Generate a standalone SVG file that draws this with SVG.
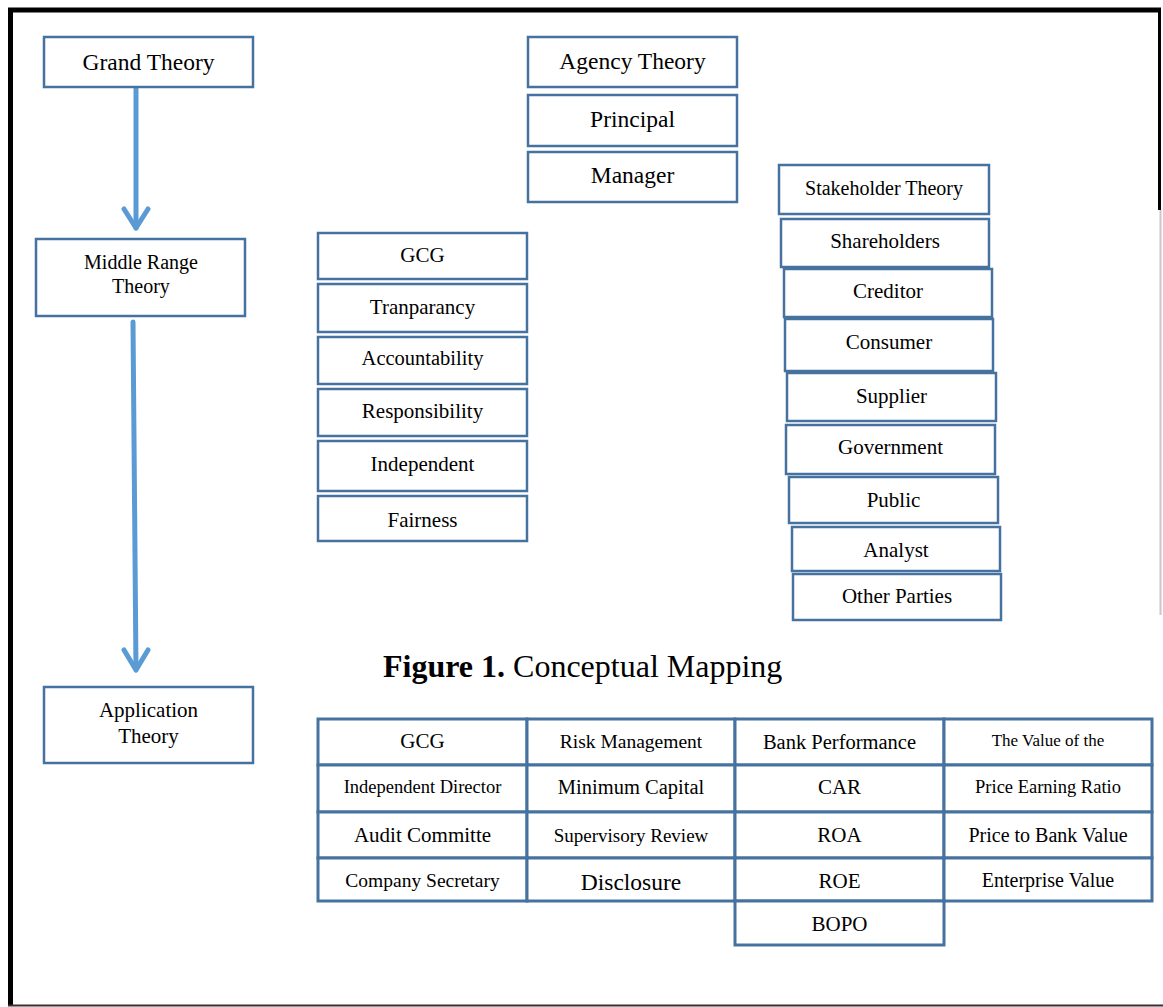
<svg xmlns="http://www.w3.org/2000/svg" width="1163" height="1007" viewBox="0 0 1163 1007">
<style>
  .box { fill: #ffffff; stroke: #4672a0; stroke-width: 2.5; }
  .cell { fill: #ffffff; stroke: #4672a0; stroke-width: 3; }
  .t { font-family: "Liberation Serif", "Times New Roman", serif; fill: #000000; text-anchor: middle; }
  .arrow { fill: none; stroke: #5b9bd5; stroke-width: 5; stroke-linecap: round; stroke-linejoin: round; }
</style>
<rect x="0" y="0" width="1163" height="1007" fill="#ffffff"/>
<g id="frame">
  <line x1="8" y1="10" x2="1161" y2="10" stroke="#000" stroke-width="5"/>
  <line x1="10.5" y1="8" x2="10.5" y2="1006" stroke="#000" stroke-width="5"/>
  <line x1="1159.5" y1="8" x2="1159.5" y2="210" stroke="#000" stroke-width="3"/>
  <line x1="1160.5" y1="210" x2="1160.5" y2="615" stroke="#c8c8c8" stroke-width="2"/>
  <line x1="8" y1="1005.5" x2="1163" y2="1005.5" stroke="#333" stroke-width="2"/>
</g>
<g id="connectors">
  <path class="arrow" d="M136 89 L136 228"/>
  <path class="arrow" d="M124 209 L136 228 L148 209"/>
  <path class="arrow" d="M133 322 L136 670"/>
  <path class="arrow" d="M124 650 L136 670 L148 650"/>
</g>
<g id="grand-theory"><rect class="box" x="44" y="37" width="209" height="50"/><text class="t" x="148.5" y="70" font-size="23.5">Grand Theory</text></g>
<g id="middle-range-theory"><rect class="box" x="36" y="239" width="209" height="77"/><text class="t" x="141" y="269" font-size="20">Middle Range</text><text class="t" x="141" y="293" font-size="20">Theory</text></g>
<g id="application-theory"><rect class="box" x="44" y="687" width="209" height="76"/><text class="t" x="148.5" y="717" font-size="21">Application</text><text class="t" x="148.5" y="743" font-size="21">Theory</text></g>

<g id="agency-theory"><rect class="box" x="528" y="37" width="209" height="50"/><text class="t" x="632.5" y="69" font-size="23.5">Agency Theory</text></g>
<g id="principal"><rect class="box" x="528" y="95" width="209" height="51"/><text class="t" x="632.5" y="127" font-size="23.5">Principal</text></g>
<g id="manager"><rect class="box" x="528" y="152" width="209" height="50"/><text class="t" x="632.5" y="183" font-size="23.5">Manager</text></g>

<g id="gcg"><rect class="box" x="318" y="233" width="209" height="46"/><text class="t" x="422.5" y="262" font-size="21">GCG</text></g>
<g id="tranparancy"><rect class="box" x="318" y="284" width="209" height="48"/><text class="t" x="422.5" y="314" font-size="21">Tranparancy</text></g>
<g id="accountability"><rect class="box" x="318" y="337" width="209" height="47"/><text class="t" x="422.5" y="365" font-size="20.5">Accountability</text></g>
<g id="responsibility"><rect class="box" x="318" y="389" width="209" height="47"/><text class="t" x="422.5" y="418" font-size="21">Responsibility</text></g>
<g id="independent"><rect class="box" x="318" y="441" width="209" height="50"/><text class="t" x="422.5" y="471" font-size="21">Independent</text></g>
<g id="fairness"><rect class="box" x="318" y="496" width="209" height="45"/><text class="t" x="422.5" y="527" font-size="21">Fairness</text></g>

<g id="stakeholder-theory"><rect class="box" x="779" y="165" width="210" height="49"/><text class="t" x="884" y="195" font-size="20">Stakeholder Theory</text></g>
<g id="shareholders"><rect class="box" x="781" y="219" width="208" height="48"/><text class="t" x="885" y="248" font-size="21">Shareholders</text></g>
<g id="creditor"><rect class="box" x="784" y="269" width="208" height="48"/><text class="t" x="888" y="298" font-size="21">Creditor</text></g>
<g id="consumer"><rect class="box" x="785" y="319" width="208" height="52"/><text class="t" x="889" y="349" font-size="21">Consumer</text></g>
<g id="supplier"><rect class="box" x="787" y="373" width="209" height="48"/><text class="t" x="891.5" y="403" font-size="21">Supplier</text></g>
<g id="government"><rect class="box" x="786" y="425" width="209" height="49"/><text class="t" x="890.5" y="454" font-size="21">Government</text></g>
<g id="public"><rect class="box" x="789" y="477" width="209" height="46"/><text class="t" x="893.5" y="507" font-size="21">Public</text></g>
<g id="analyst"><rect class="box" x="792" y="527" width="208" height="44"/><text class="t" x="896" y="557" font-size="21">Analyst</text></g>
<g id="other-parties"><rect class="box" x="793" y="574" width="208" height="46"/><text class="t" x="897" y="603" font-size="21">Other Parties</text></g>

<g id="caption"><text x="383" y="677" font-family="Liberation Serif, serif" font-size="32" fill="#000"><tspan font-weight="bold">Figure 1.</tspan> Conceptual Mapping</text></g>

<g id="table">
  <g id="c-gcg"><rect class="cell" x="318" y="719" width="209" height="46"/><text class="t" x="422.5" y="748" font-size="21">GCG</text></g>
  <g id="c-risk"><rect class="cell" x="527" y="719" width="208" height="46"/><text class="t" x="631" y="748" font-size="19.5">Risk Management</text></g>
  <g id="c-bank"><rect class="cell" x="735" y="719" width="209" height="46"/><text class="t" x="839.5" y="749" font-size="20.5">Bank Performance</text></g>
  <g id="c-value"><rect class="cell" x="944" y="719" width="208" height="46"/><text class="t" x="1048" y="746" font-size="17">The Value of the</text></g>

  <g id="c-inddir"><rect class="cell" x="318" y="765" width="209" height="47"/><text class="t" x="422.5" y="793" font-size="18.5">Independent Director</text></g>
  <g id="c-mincap"><rect class="cell" x="527" y="765" width="208" height="47"/><text class="t" x="631" y="794" font-size="20.5">Minimum Capital</text></g>
  <g id="c-car"><rect class="cell" x="735" y="765" width="209" height="47"/><text class="t" x="839.5" y="794" font-size="21">CAR</text></g>
  <g id="c-per"><rect class="cell" x="944" y="765" width="208" height="47"/><text class="t" x="1048" y="793" font-size="18.5">Price Earning Ratio</text></g>

  <g id="c-audit"><rect class="cell" x="318" y="812" width="209" height="46"/><text class="t" x="422.5" y="842" font-size="21">Audit Committe</text></g>
  <g id="c-super"><rect class="cell" x="527" y="812" width="208" height="46"/><text class="t" x="631" y="842" font-size="19">Supervisory Review</text></g>
  <g id="c-roa"><rect class="cell" x="735" y="812" width="209" height="46"/><text class="t" x="839.5" y="842" font-size="21">ROA</text></g>
  <g id="c-pbv"><rect class="cell" x="944" y="812" width="208" height="46"/><text class="t" x="1048" y="842" font-size="20">Price to Bank Value</text></g>

  <g id="c-secretary"><rect class="cell" x="318" y="858" width="209" height="43"/><text class="t" x="422.5" y="887" font-size="19.5">Company Secretary</text></g>
  <g id="c-disclosure"><rect class="cell" x="527" y="858" width="208" height="43"/><text class="t" x="631" y="890" font-size="23.5">Disclosure</text></g>
  <g id="c-roe"><rect class="cell" x="735" y="858" width="209" height="43"/><text class="t" x="839.5" y="888" font-size="21">ROE</text></g>
  <g id="c-ev"><rect class="cell" x="944" y="858" width="208" height="43"/><text class="t" x="1048" y="887" font-size="20">Enterprise Value</text></g>

  <g id="c-bopo"><rect class="cell" x="735" y="901" width="209" height="44"/><text class="t" x="839.5" y="931" font-size="21">BOPO</text></g>
</g>
</svg>
